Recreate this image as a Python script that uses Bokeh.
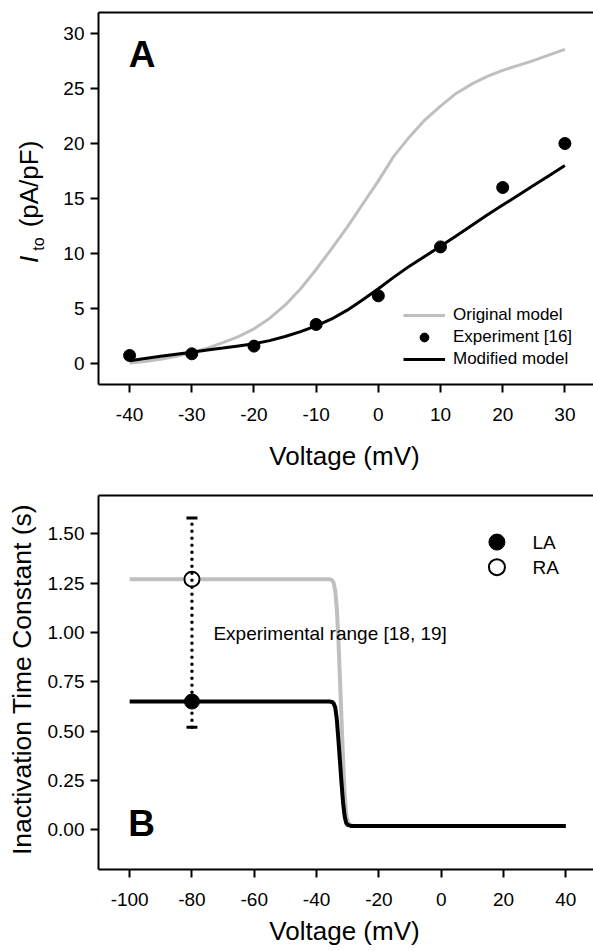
import math
from bokeh.plotting import figure
from bokeh.models import (Range1d, FixedTicker, Legend, LegendItem, Label,
                          PrintfTickFormatter, LinearAxis)
from bokeh.layouts import column
from bokeh.embed import file_html
from bokeh.resources import INLINE

FONT = "Liberation Sans"
GREY = "#bfbfbf"

# ---------------- Panel A data ----------------
v_model = [-40, -37.5, -35, -32.5, -30, -27.5, -25, -22.5, -20, -17.5, -15, -12.5, -10, -7.5,
           -5, -2.5, 0, 2.5, 5, 7.5, 10, 12.5, 15, 17.5, 20, 22.5, 25, 27.5, 30]
ito_original = [0.05, 0.18, 0.38, 0.65, 1.0, 1.4, 1.9, 2.45, 3.15, 4.1, 5.3, 6.8, 8.55, 10.45,
                12.4, 14.5, 16.6, 18.85, 20.6, 22.15, 23.4, 24.55, 25.4, 26.1, 26.65, 27.1,
                27.55, 28.05, 28.55]
ito_modified = [0.25, 0.45, 0.65, 0.85, 1.03, 1.22, 1.4, 1.6, 1.8, 2.08, 2.45, 2.9, 3.42, 4.05,
                4.85, 5.8, 6.8, 7.85, 8.85, 9.75, 10.65, 11.6, 12.55, 13.5, 14.4, 15.3, 16.2,
                17.1, 18.0]
v_exp = [-40, -30, -20, -10, 0, 10, 20, 30]
ito_exp = [0.73, 0.88, 1.58, 3.55, 6.15, 10.6, 16.0, 20.0]
xticks_A = [-40, -30, -20, -10, 0, 10, 20, 30]
yticks_A = [0, 5, 10, 15, 20, 25, 30]
XA = (-45, 34.6)      # visible voltage span of panel A
YA = (-1.91, 31.91)   # visible current span of panel A

# ---------------- Panel B data ----------------
v_tau = [-100, -36, -35, -34.5, -34, -33.5, -33, -32.5, -32, -31.5, -31, -30.5, -30, -29, -28, 40]
tau_original = [1.27, 1.27, 1.265, 1.25, 1.21, 1.12, 0.97, 0.77, 0.56, 0.36, 0.19, 0.08, 0.04,
                0.022, 0.02, 0.02]
tau_modified = [0.65, 0.65, 0.648, 0.64, 0.62, 0.56, 0.46, 0.35, 0.24, 0.14, 0.07, 0.035, 0.025,
                0.02, 0.02, 0.02]
v_exp_B = [-80]
tau_LA = [0.65]
tau_RA = [1.27]
range_low = [0.52]
range_high = [1.58]
xticks_B = [-100, -80, -60, -40, -20, 0, 20, 40]
yticks_B = [0.0, 0.25, 0.5, 0.75, 1.0, 1.25, 1.5]
XB = (-110, 48.9)
YB = (-0.201, 1.694)

AXIS_X0 = 98          # page x of the vertical axes
FRAME_W = 593


def style_axis(ax):
    ax.axis_line_width = 2
    ax.axis_line_color = "black"
    ax.major_tick_line_width = 2
    ax.major_tick_line_color = "black"
    ax.major_tick_in = 0
    ax.major_tick_out = 8
    ax.minor_tick_line_color = None
    ax.major_label_text_font = FONT
    ax.major_label_text_font_size = "19px"
    ax.major_label_text_color = "black"


def make_panel(xspan, yspan, xticks, yticks, height, top, bottom):
    """Whole figure is the frame; axes are placed at fixed data locations."""
    ppx = (FRAME_W - AXIS_X0) / (xspan[1] - xspan[0])
    ppy = (bottom - top) / (yspan[1] - yspan[0])
    x_left = xspan[0] - AXIS_X0 / ppx
    y_top = yspan[1] + top / ppy
    y_bot = yspan[0] - (height - bottom) / ppy
    p = figure(width=FRAME_W, height=height, x_range=Range1d(x_left, xspan[1]),
               y_range=Range1d(y_bot, y_top), output_backend="svg", toolbar_location=None,
               min_border=0)
    p.outline_line_color = None
    p.grid.visible = False
    p.background_fill_color = "white"
    p.border_fill_color = "white"
    for ax in p.axis:
        style_axis(ax)
    p.yaxis.fixed_location = xspan[0]
    p.yaxis.bounds = yspan
    p.xaxis.fixed_location = yspan[0]
    p.xaxis.bounds = xspan
    p.xaxis.ticker = FixedTicker(ticks=xticks)
    p.yaxis.ticker = FixedTicker(ticks=yticks)
    p.xaxis.major_label_standoff = 15
    p.yaxis.major_label_standoff = 6
    p.xaxis.formatter = PrintfTickFormatter(format="%d")
    top_axis = LinearAxis(bounds=xspan, fixed_location=yspan[1], ticker=FixedTicker(ticks=[]),
                          major_label_text_font_size="0px", major_tick_line_color=None,
                          minor_tick_line_color=None, axis_line_width=2, axis_line_color="black")
    p.add_layout(top_axis, "above")

    def to_x(page_x):
        return x_left + page_x / ppx

    def to_y(local_y):
        return y_top - local_y / ppy
    return p, to_x, to_y


def text_label(p, x, y, text, size, align="center", angle=0.0, style="normal"):
    p.add_layout(Label(x=x, y=y, text=text, angle=angle, text_font=FONT,
                       text_font_style=style, text_font_size=size, text_color="black",
                       text_baseline="middle", text_align=align))


# ================= Panel A =================
pA, xa, ya = make_panel(XA, YA, xticks_A, yticks_A, 476, 12, 384)

rA_orig = pA.line(v_model, ito_original, line_color=GREY, line_width=3)
rA_mod = pA.line(v_model, ito_modified, line_color="black", line_width=3)
rA_exp = pA.scatter(v_exp, ito_exp, size=12, color="black")

legA = Legend(items=[LegendItem(label="Original model", renderers=[rA_orig]),
                     LegendItem(label="Experiment [16]", renderers=[rA_exp]),
                     LegendItem(label="Modified model", renderers=[rA_mod])],
              location=(403, 106), glyph_width=42, glyph_height=22, label_height=22,
              label_standoff=8, spacing=0, padding=0, margin=0,
              border_line_color=None, background_fill_alpha=0,
              label_text_font=FONT, label_text_font_size="17px", label_text_color="black")
pA.add_layout(legA)

text_label(pA, xa(141.5), ya(53.5), "A", "37px", style="bold")
text_label(pA, xa(344), ya(455), "Voltage (mV)", "26px")
# y-axis title of panel A: italic I with subscript "to", then (pA/pF)
text_label(pA, xa(28.2), ya(259), "I", "26px", angle=math.pi / 2, style="italic")
text_label(pA, xa(37.5), ya(243.5), "to", "16px", angle=math.pi / 2)
text_label(pA, xa(28.5), ya(183.5), "(pA/pF)", "26px", angle=math.pi / 2)

# ================= Panel B =================
pB, xb, yb = make_panel(XB, YB, xticks_B, yticks_B, 475, 19, 393)
pB.yaxis.formatter = PrintfTickFormatter(format="%.2f")

pB.line(v_tau, tau_original, line_color=GREY, line_width=4)
pB.line(v_tau, tau_modified, line_color="black", line_width=4)
pB.scatter(v_exp_B, tau_LA, size=15, color="black")
pB.scatter(v_exp_B, tau_RA, size=15, line_color="black", line_width=2, fill_color="white")
pB.segment(x0=v_exp_B, y0=range_low, x1=v_exp_B, y1=range_high, line_color="black",
           line_width=3.5, line_dash="0 7", line_cap="round")
pB.scatter(v_exp_B + v_exp_B, range_low + range_high, marker="dash", size=11,
           line_color="black", line_width=3)

text_label(pB, xb(21), yb(203), "Inactivation Time Constant (s)", "26.5px", angle=math.pi / 2)
text_label(pB, xb(344), yb(454), "Voltage (mV)", "26px")
text_label(pB, -73.1, 0.995, "Experimental range [18, 19]", "19px", align="left")
text_label(pB, xb(141), yb(347), "B", "37px", style="bold")

# legend of panel B (LA filled, RA open)
leg_x = [17.9]
pB.scatter(leg_x, [1.458], size=16, color="black")
pB.scatter(leg_x, [1.331], size=16, line_color="black", line_width=2, fill_color="white")
text_label(pB, 29.3, 1.458, "LA", "19px", align="left")
text_label(pB, 29.3, 1.331, "RA", "19px", align="left")

layout = column(pA, pB, spacing=0)
open("out.html", "w").write(file_html(layout, INLINE))
